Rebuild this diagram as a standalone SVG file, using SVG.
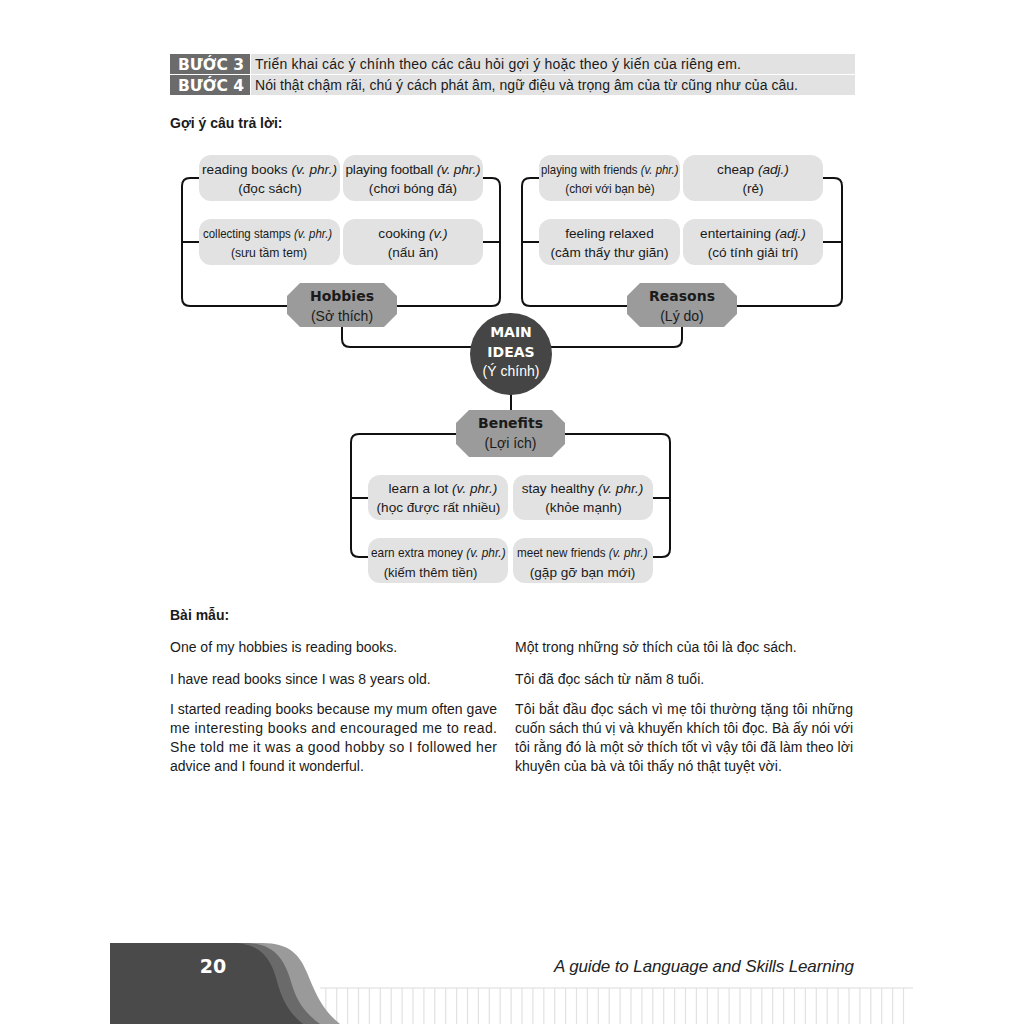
<svg xmlns="http://www.w3.org/2000/svg" width="1024" height="1024" viewBox="0 0 1024 1024">
<style>
text{font-family:"Liberation Sans",Arial,sans-serif;fill:#1a1a1a}
.h{font-size:14px}
.lab{font-family:"DejaVu Sans","Liberation Sans",sans-serif;font-size:14px;font-weight:bold;fill:#fff;text-anchor:middle}
.b{font-size:14px;font-weight:bold}
.p{font-size:13.6px;text-anchor:middle}
.c{font-size:13.6px}
.i{font-style:italic}
.oct{fill:#9b9b9b}
.ot{font-size:14px;text-anchor:middle}
.otb{font-family:"DejaVu Sans","Liberation Sans",sans-serif;font-size:14px;font-weight:bold;text-anchor:middle}
.pill{fill:#e2e2e2}
.con{fill:none;stroke:#111;stroke-width:2}
.body{font-size:14px}
</style>

<!-- header -->
<g id="steps">
<rect x="170" y="54" width="80" height="20" fill="#6b6b6b"/>
<rect x="251" y="54" width="604" height="20" fill="#e2e2e2"/>
<rect x="170" y="75" width="80" height="20" fill="#6b6b6b"/>
<rect x="251" y="75" width="604" height="20" fill="#e2e2e2"/>
<text class="lab" x="211" y="69.5" style="font-size:15px" textLength="66" lengthAdjust="spacingAndGlyphs">BƯỚC 3</text>
<text class="lab" x="211" y="90.5" style="font-size:15px" textLength="66" lengthAdjust="spacingAndGlyphs">BƯỚC 4</text>
<text class="h" x="255" y="69" textLength="486">Triển khai các ý chính theo các câu hỏi gợi ý hoặc theo ý kiến của riêng em.</text>
<text class="h" x="255" y="90" textLength="543">Nói thật chậm rãi, chú ý cách phát âm, ngữ điệu và trọng âm của từ cũng như của câu.</text>
</g>
<text class="b" x="170" y="128">Gợi ý câu trả lời:</text>

<!-- connectors -->
<g id="connectors">
<path class="con" d="M200,178 H190 Q182,178 182,186 V298 Q182,306 190,306 H492 Q500,306 500,298 V186 Q500,178 492,178 H483"/>
<path class="con" d="M182,242 H200 M483,242 H500"/>
<path class="con" d="M539,178 H530 Q522,178 522,186 V298 Q522,306 530,306 H834 Q842,306 842,298 V186 Q842,178 834,178 H823"/>
<path class="con" d="M522,242 H539 M823,242 H842"/>
<path class="con" d="M342,327 V339 Q342,347 350,347 H475"/>
<path class="con" d="M682,327 V339 Q682,347 674,347 H548"/>
<path class="con" d="M511,393 V411"/>
<path class="con" d="M456,434 H359 Q351,434 351,442 V549 Q351,557 359,557 H368"/>
<path class="con" d="M565,434 H662 Q670,434 670,442 V549 Q670,557 662,557 H653"/>
<path class="con" d="M351,498 H368 M653,498 H670"/>
</g>

<!-- Hobbies pills -->
<g id="reading-books">
<rect class="pill" x="199" y="155" width="141" height="46" rx="12"/>
<text class="p" x="269.5" y="174" textLength="135">reading books <tspan class="i">(v. phr.)</tspan></text>
<text class="p" x="270" y="193">(đọc sách)</text>
</g>
<g id="playing-football">
<rect class="pill" x="343" y="155" width="140" height="46" rx="12"/>
<text class="p" x="413" y="174" textLength="135">playing football <tspan class="i">(v. phr.)</tspan></text>
<text class="p" x="413" y="193">(chơi bóng đá)</text>
</g>
<g id="collecting-stamps">
<rect class="pill" x="199" y="219" width="141" height="46" rx="12"/>
<text class="c" x="0" y="0" transform="translate(203,238) scale(0.843,1)">collecting stamps <tspan class="i">(v. phr.)</tspan></text>
<text class="p" x="0" y="0" transform="translate(269,257) scale(0.894,1)">(sưu tầm tem)</text>
</g>
<g id="cooking">
<rect class="pill" x="343" y="219" width="140" height="46" rx="12"/>
<text class="p" x="413" y="238">cooking <tspan class="i">(v.)</tspan></text>
<text class="p" x="413" y="257">(nấu ăn)</text>
</g>

<!-- Reasons pills -->
<g id="playing-with-friends">
<rect class="pill" x="539" y="155" width="141" height="46" rx="12"/>
<text class="c" x="0" y="0" transform="translate(541,174) scale(0.836,1)">playing with friends <tspan class="i">(v. phr.)</tspan></text>
<text class="p" x="0" y="0" transform="translate(610,193) scale(0.866,1)">(chơi với bạn bè)</text>
</g>
<g id="cheap">
<rect class="pill" x="683" y="155" width="140" height="46" rx="12"/>
<text class="p" x="753" y="174">cheap <tspan class="i">(adj.)</tspan></text>
<text class="p" x="753" y="193">(rẻ)</text>
</g>
<g id="feeling-relaxed">
<rect class="pill" x="539" y="219" width="141" height="46" rx="12"/>
<text class="p" x="609.5" y="238">feeling relaxed</text>
<text class="p" x="609.5" y="257">(cảm thấy thư giãn)</text>
</g>
<g id="entertaining">
<rect class="pill" x="683" y="219" width="140" height="46" rx="12"/>
<text class="p" x="753" y="238">entertaining <tspan class="i">(adj.)</tspan></text>
<text class="p" x="753" y="257">(có tính giải trí)</text>
</g>

<!-- Benefits pills -->
<g id="learn-a-lot">
<rect class="pill" x="368" y="475" width="140" height="45" rx="12"/>
<text class="p" x="443" y="493">learn a lot <tspan class="i">(v. phr.)</tspan></text>
<text class="p" x="438.5" y="512">(học được rất nhiều)</text>
</g>
<g id="stay-healthy">
<rect class="pill" x="513" y="475" width="140" height="45" rx="12"/>
<text class="p" x="582.5" y="493">stay healthy <tspan class="i">(v. phr.)</tspan></text>
<text class="p" x="583.5" y="512">(khỏe mạnh)</text>
</g>
<g id="earn-extra-money">
<rect class="pill" x="368" y="538" width="140" height="45" rx="12"/>
<text class="c" x="0" y="0" transform="translate(371,557) scale(0.869,1)">earn extra money <tspan class="i">(v. phr.)</tspan></text>
<text class="p" x="0" y="0" transform="translate(430.5,577) scale(0.96,1)">(kiếm thêm tiền)</text>
</g>
<g id="meet-new-friends">
<rect class="pill" x="513" y="538" width="140" height="45" rx="12"/>
<text class="c" x="0" y="0" transform="translate(517,557) scale(0.856,1)">meet new friends <tspan class="i">(v. phr.)</tspan></text>
<text class="p" x="582.5" y="577">(gặp gỡ bạn mới)</text>
</g>

<!-- category nodes -->
<g id="hobbies">
<polygon class="oct" points="300,283 384,283 397,296 397,314 384,327 300,327 287,314 287,296"/>
<text class="otb" x="342" y="301">Hobbies</text>
<text class="ot" x="342" y="321">(Sở thích)</text>
</g>
<g id="reasons">
<polygon class="oct" points="640,283 724,283 737,296 737,314 724,327 640,327 627,314 627,296"/>
<text class="otb" x="682" y="301">Reasons</text>
<text class="ot" x="682" y="321">(Lý do)</text>
</g>
<g id="benefits">
<polygon class="oct" points="469,410 552,410 565,423 565,444 552,457 469,457 456,444 456,423"/>
<text class="otb" x="510.5" y="428">Benefits</text>
<text class="ot" x="510.5" y="448">(Lợi ích)</text>
</g>
<g id="main-ideas">
<circle cx="511" cy="354" r="41" fill="#454545"/>
<text class="lab" x="511" y="337">MAIN</text>
<text class="lab" x="511" y="357">IDEAS</text>
<text x="511" y="376" style="font-size:14px;fill:#fff;text-anchor:middle">(Ý chính)</text>
</g>

<!-- sample text -->
<g id="sample">
<text class="b" x="170" y="620">Bài mẫu:</text>
<text class="body" x="170" y="652">One of my hobbies is reading books.</text>
<text class="body" x="170" y="684">I have read books since I was 8 years old.</text>
<text class="body" x="170" y="714" textLength="327">I started reading books because my mum often gave</text>
<text class="body" x="170" y="733" textLength="327">me interesting books and encouraged me to read.</text>
<text class="body" x="170" y="752" textLength="327">She told me it was a good hobby so I followed her</text>
<text class="body" x="170" y="771">advice and I found it wonderful.</text>
<text class="body" x="515" y="652">Một trong những sở thích của tôi là đọc sách.</text>
<text class="body" x="515" y="684">Tôi đã đọc sách từ năm 8 tuổi.</text>
<text class="body" x="515" y="714" textLength="338">Tôi bắt đầu đọc sách vì mẹ tôi thường tặng tôi những</text>
<text class="body" x="515" y="733" textLength="338">cuốn sách thú vị và khuyến khích tôi đọc. Bà ấy nói với</text>
<text class="body" x="515" y="752" textLength="338">tôi rằng đó là một sở thích tốt vì vậy tôi đã làm theo lời</text>
<text class="body" x="515" y="771">khuyên của bà và tôi thấy nó thật tuyệt vời.</text>
</g>

<!-- footer -->
<g id="footer">
<path d="M320,988 H913" stroke="#dcdcdc" stroke-width="1.2" fill="none"/>
<path stroke="#e2e2e2" stroke-width="1.2" fill="none" d="M325.8,988V1024M336.7,988V1024M347.6,988V1024M358.5,988V1024M369.4,988V1024M380.3,988V1024M391.2,988V1024M402.1,988V1024M413,988V1024M423.9,988V1024M434.8,988V1024M445.7,988V1024M456.6,988V1024M467.5,988V1024M478.4,988V1024M489.3,988V1024M500.2,988V1024M511.1,988V1024M522,988V1024M532.9,988V1024M543.8,988V1024M554.7,988V1024M565.6,988V1024M576.5,988V1024M587.4,988V1024M598.3,988V1024M609.2,988V1024M620.1,988V1024M631,988V1024M641.9,988V1024M652.8,988V1024M663.7,988V1024M674.6,988V1024M685.5,988V1024M696.4,988V1024M707.3,988V1024M718.2,988V1024M729.1,988V1024M740,988V1024M750.9,988V1024M761.8,988V1024M772.7,988V1024M783.6,988V1024M794.5,988V1024M805.4,988V1024M816.3,988V1024M827.2,988V1024M838.1,988V1024M849,988V1024M859.9,988V1024M870.8,988V1024M881.7,988V1024M892.6,988V1024M903.5,988V1024"/>
<path fill="#9a9a9a" d="M110,943 H262 C290,943 300,955 308,975 C318,1000 325,1012 340,1024 H110 Z"/>
<path fill="#6a6a6a" d="M110,943 H245 C275,943 285,960 292,985 C298,1005 308,1015 320,1024 H110 Z"/>
<path fill="#4a4a4a" d="M110,943 H232 C262,943 272,960 278,985 C284,1005 292,1015 303,1024 H110 Z"/>
<text x="213" y="973" style="font-family:'DejaVu Sans','Liberation Sans',sans-serif;font-size:19px;font-weight:bold;fill:#fff;text-anchor:middle">20</text>
<text x="554" y="972" textLength="300" style="font-size:17px;font-style:italic;fill:#222">A guide to Language and Skills Learning</text>
</g>
</svg>
